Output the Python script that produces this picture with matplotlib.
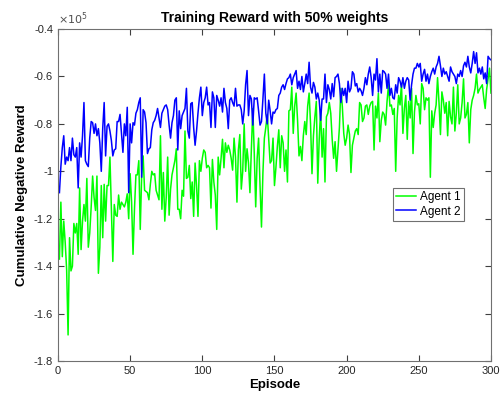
import matplotlib
matplotlib.use("Agg")
import matplotlib.pyplot as plt
from matplotlib.ticker import FuncFormatter

# cumulative negative reward per episode, in units of 1e5
agent1 = [
    -1.37, -1.13, -1.36, -1.21, -1.30, -1.415, -1.69, -1.28, -1.42, -1.40,
    -1.22, -1.26, -1.22, -1.35, -1.07, -1.33, -1.21, -1.14, -1.21, -1.03,
    -1.32, -1.26, -1.15, -1.02, -1.11, -1.165, -1.02, -1.43, -1.32, -1.06,
    -1.28, -1.055, -1.21, -1.06, -1.06, -0.94, -1.165, -1.38, -1.14, -1.185,
    -1.19, -1.10, -1.16, -1.13, -1.14, -1.15, -1.13, -1.095, -1.20, -1.01,
    -1.13, -1.35, -1.16, -1.015, -1.015, -0.955, -1.245, -1.015, -0.935, -1.08,
    -1.085, -1.09, -1.12, -1.055, -1.00, -1.015, -1.01, -1.08, -1.10, -1.12,
    -0.85, -1.16, -1.005, -1.21, -1.11, -0.94, -1.185, -1.075, -1.015, -0.985,
    -0.955, -0.905, -1.16, -1.16, -1.20, -1.08, -1.105, -0.83, -1.03, -1.025,
    -0.975, -1.115, -1.045, -1.19, -0.965, -1.06, -1.19, -0.955, -1.00, -0.945,
    -0.91, -0.92, -0.985, -0.975, -0.985, -1.155, -0.95, -1.045, -1.10, -1.245,
    -0.94, -1.015, -0.945, -0.865, -0.985, -0.88, -0.92, -0.89, -0.91, -0.945,
    -0.995, -0.86, -0.94, -1.13, -0.91, -0.845, -1.075, -1.00, -0.80, -1.00,
    -0.905, -0.965, -1.09, -0.905, -0.735, -0.925, -1.15, -0.945, -0.86, -1.06,
    -1.235, -1.005, -0.86, -0.815, -0.76, -0.86, -0.965, -0.955, -0.86, -1.06,
    -0.985, -0.895, -0.825, -0.985, -0.85, -0.88, -1.00, -0.91, -1.045, -0.745,
    -0.74, -0.645, -0.84, -0.725, -0.67, -0.785, -0.935, -0.895, -0.955, -0.85,
    -0.79, -0.845, -0.725, -0.67, -0.80, -1.01, -0.85, -0.77, -0.705, -1.05,
    -0.865, -0.74, -0.94, -0.82, -1.045, -0.77, -0.755, -0.71, -0.755, -0.865,
    -0.945, -0.875, -1.00, -0.91, -0.815, -0.65, -0.725, -0.84, -0.89, -0.86,
    -0.805, -0.845, -1.005, -0.89, -0.86, -0.83, -0.82, -0.845, -0.71, -0.72,
    -0.79, -0.775, -0.725, -0.72, -0.76, -0.725, -0.71, -0.705, -0.91, -0.725,
    -0.775, -0.67, -0.875, -0.785, -0.75, -0.76, -0.805, -0.705, -0.635, -0.725,
    -0.72, -0.76, -0.735, -1.00, -0.775, -0.68, -0.72, -0.63, -0.84, -0.735,
    -0.68, -0.865, -0.705, -0.775, -0.65, -0.925, -0.75, -0.68, -0.72, -0.715,
    -0.80, -0.63, -0.65, -0.74, -0.69, -0.70, -0.69, -1.025, -0.745, -0.815,
    -0.755, -0.72, -0.605, -0.71, -0.845, -0.665, -0.70, -0.755, -0.71, -0.85,
    -0.705, -0.77, -0.80, -0.645, -0.83, -0.755, -0.635, -0.80, -0.775, -0.71,
    -0.61, -0.775, -0.76, -0.71, -0.88, -0.74, -0.70, -0.68, -0.65, -0.59,
    -0.67, -0.655, -0.645, -0.635, -0.69, -0.735, -0.655, -0.61, -0.565, -0.67,
]

agent2 = [
    -1.09, -0.98, -0.90, -0.85, -0.97, -0.94, -0.955, -0.90, -0.955, -0.86,
    -0.93, -0.94, -0.90, -1.07, -0.88, -0.94, -0.85, -0.71, -0.955, -0.97,
    -0.98, -0.86, -0.79, -0.795, -0.84, -0.80, -0.85, -0.82, -0.88, -1.00,
    -0.82, -0.71, -0.935, -0.81, -0.80, -0.83, -0.87, -0.935, -0.91, -0.905,
    -0.79, -0.79, -0.76, -0.84, -0.92, -0.80, -0.85, -0.73, -1.09, -0.80,
    -0.88, -0.795, -0.805, -0.755, -0.74, -0.71, -0.69, -1.025, -0.74, -0.75,
    -0.795, -0.925, -0.905, -0.90, -0.825, -0.795, -0.785, -0.765, -0.735, -0.775,
    -0.815, -0.755, -0.74, -0.725, -0.72, -0.74, -0.805, -0.86, -0.795, -0.765,
    -0.70, -0.69, -0.91, -0.745, -0.82, -0.765, -0.75, -0.735, -0.65, -0.83,
    -0.86, -0.715, -0.71, -0.815, -0.89, -0.83, -0.755, -0.69, -0.645, -0.765,
    -0.71, -0.69, -0.645, -0.72, -0.71, -0.815, -0.665, -0.69, -0.815, -0.68,
    -0.70, -0.725, -0.69, -0.75, -0.65, -0.71, -0.735, -0.82, -0.70, -0.69,
    -0.71, -0.725, -0.65, -0.725, -0.72, -0.72, -0.74, -0.80, -0.745, -0.635,
    -0.575, -0.765, -0.68, -0.695, -0.805, -0.69, -0.695, -0.69, -0.745, -0.805,
    -0.79, -0.695, -0.59, -0.755, -0.80, -0.70, -0.745, -0.80, -0.75, -0.755,
    -0.74, -0.735, -0.68, -0.67, -0.645, -0.635, -0.655, -0.63, -0.61, -0.605,
    -0.59, -0.635, -0.605, -0.59, -0.575, -0.65, -0.62, -0.655, -0.60, -0.665,
    -0.63, -0.59, -0.63, -0.54, -0.645, -0.67, -0.625, -0.645, -0.695, -0.67,
    -0.70, -0.785, -0.695, -0.695, -0.59, -0.71, -0.635, -0.655, -0.695, -0.63,
    -0.685, -0.605, -0.60, -0.59, -0.63, -0.71, -0.65, -0.68, -0.65, -0.71,
    -0.62, -0.665, -0.65, -0.58, -0.59, -0.64, -0.63, -0.665, -0.65, -0.66,
    -0.68, -0.65, -0.605, -0.635, -0.59, -0.56, -0.605, -0.68, -0.59, -0.615,
    -0.525, -0.665, -0.59, -0.67, -0.575, -0.58, -0.59, -0.65, -0.59, -0.68,
    -0.65, -0.69, -0.695, -0.635, -0.67, -0.605, -0.62, -0.645, -0.605, -0.65,
    -0.62, -0.605, -0.615, -0.70, -0.635, -0.59, -0.565, -0.565, -0.545, -0.56,
    -0.545, -0.62, -0.59, -0.57, -0.62, -0.59, -0.63, -0.60, -0.58, -0.565,
    -0.59, -0.56, -0.545, -0.515, -0.555, -0.60, -0.565, -0.59, -0.58, -0.60,
    -0.62, -0.56, -0.58, -0.59, -0.60, -0.63, -0.59, -0.60, -0.575, -0.60,
    -0.555, -0.54, -0.56, -0.515, -0.56, -0.585, -0.545, -0.495, -0.545, -0.50,
    -0.585, -0.565, -0.59, -0.56, -0.61, -0.585, -0.63, -0.515, -0.525, -0.53,
]

episodes = list(range(1, len(agent1) + 1))
labels = ["Agent 1", "Agent 2"]
colors = ["#00ff00", "#0000ff"]

plt.rcParams['font.family'] = ['Liberation Sans', 'DejaVu Sans']
plt.rcParams['axes.unicode_minus'] = False

fig = plt.figure(figsize=(5.02, 3.99), dpi=100)
ax = fig.add_axes([0.1155, 0.0952, 0.8625, 0.832])

ax.plot(episodes, agent1, color=colors[0], lw=1.1, label=labels[0])
ax.plot(episodes, agent2, color=colors[1], lw=1.1, label=labels[1])

ax.set_xlim(0, 300)
ax.set_ylim(-1.8, -0.4)
ax.set_xticks(range(0, 301, 50))
ax.set_yticks([-1.8, -1.6, -1.4, -1.2, -1.0, -0.8, -0.6, -0.4])
ax.yaxis.set_major_formatter(FuncFormatter(lambda v, p: "%g" % round(v, 1)))

edge = "#262626"
for s in ax.spines.values():
    s.set_color("#707070")
    s.set_linewidth(0.8)
ax.tick_params(direction="in", length=4, width=0.8, color="#404040",
               labelcolor=edge, labelsize=8, top=True, right=True)

ax.set_title("Training Reward with 50% weights", fontsize=10, fontweight="bold", pad=5)
ax.set_xlabel("Episode", fontsize=9.5, fontweight="bold", labelpad=2)
ax.set_ylabel("Cumulative Negative Reward", fontsize=9.5, fontweight="bold", labelpad=4)
ax.text(0.0, 1.005, r"$\times10^{5}$", transform=ax.transAxes, fontsize=8,
        color="#505050", ha="left", va="bottom")

leg = ax.legend(loc="upper left", bbox_to_anchor=(0.773, 0.522), borderaxespad=0,
                fancybox=False, framealpha=1, edgecolor="#707070", fontsize=8.5,
                handlelength=1.7, handletextpad=0.3, labelspacing=0.2,
                borderpad=0.3)
leg.get_frame().set_linewidth(0.8)

fig.savefig("out.png", dpi=100, facecolor="white")
